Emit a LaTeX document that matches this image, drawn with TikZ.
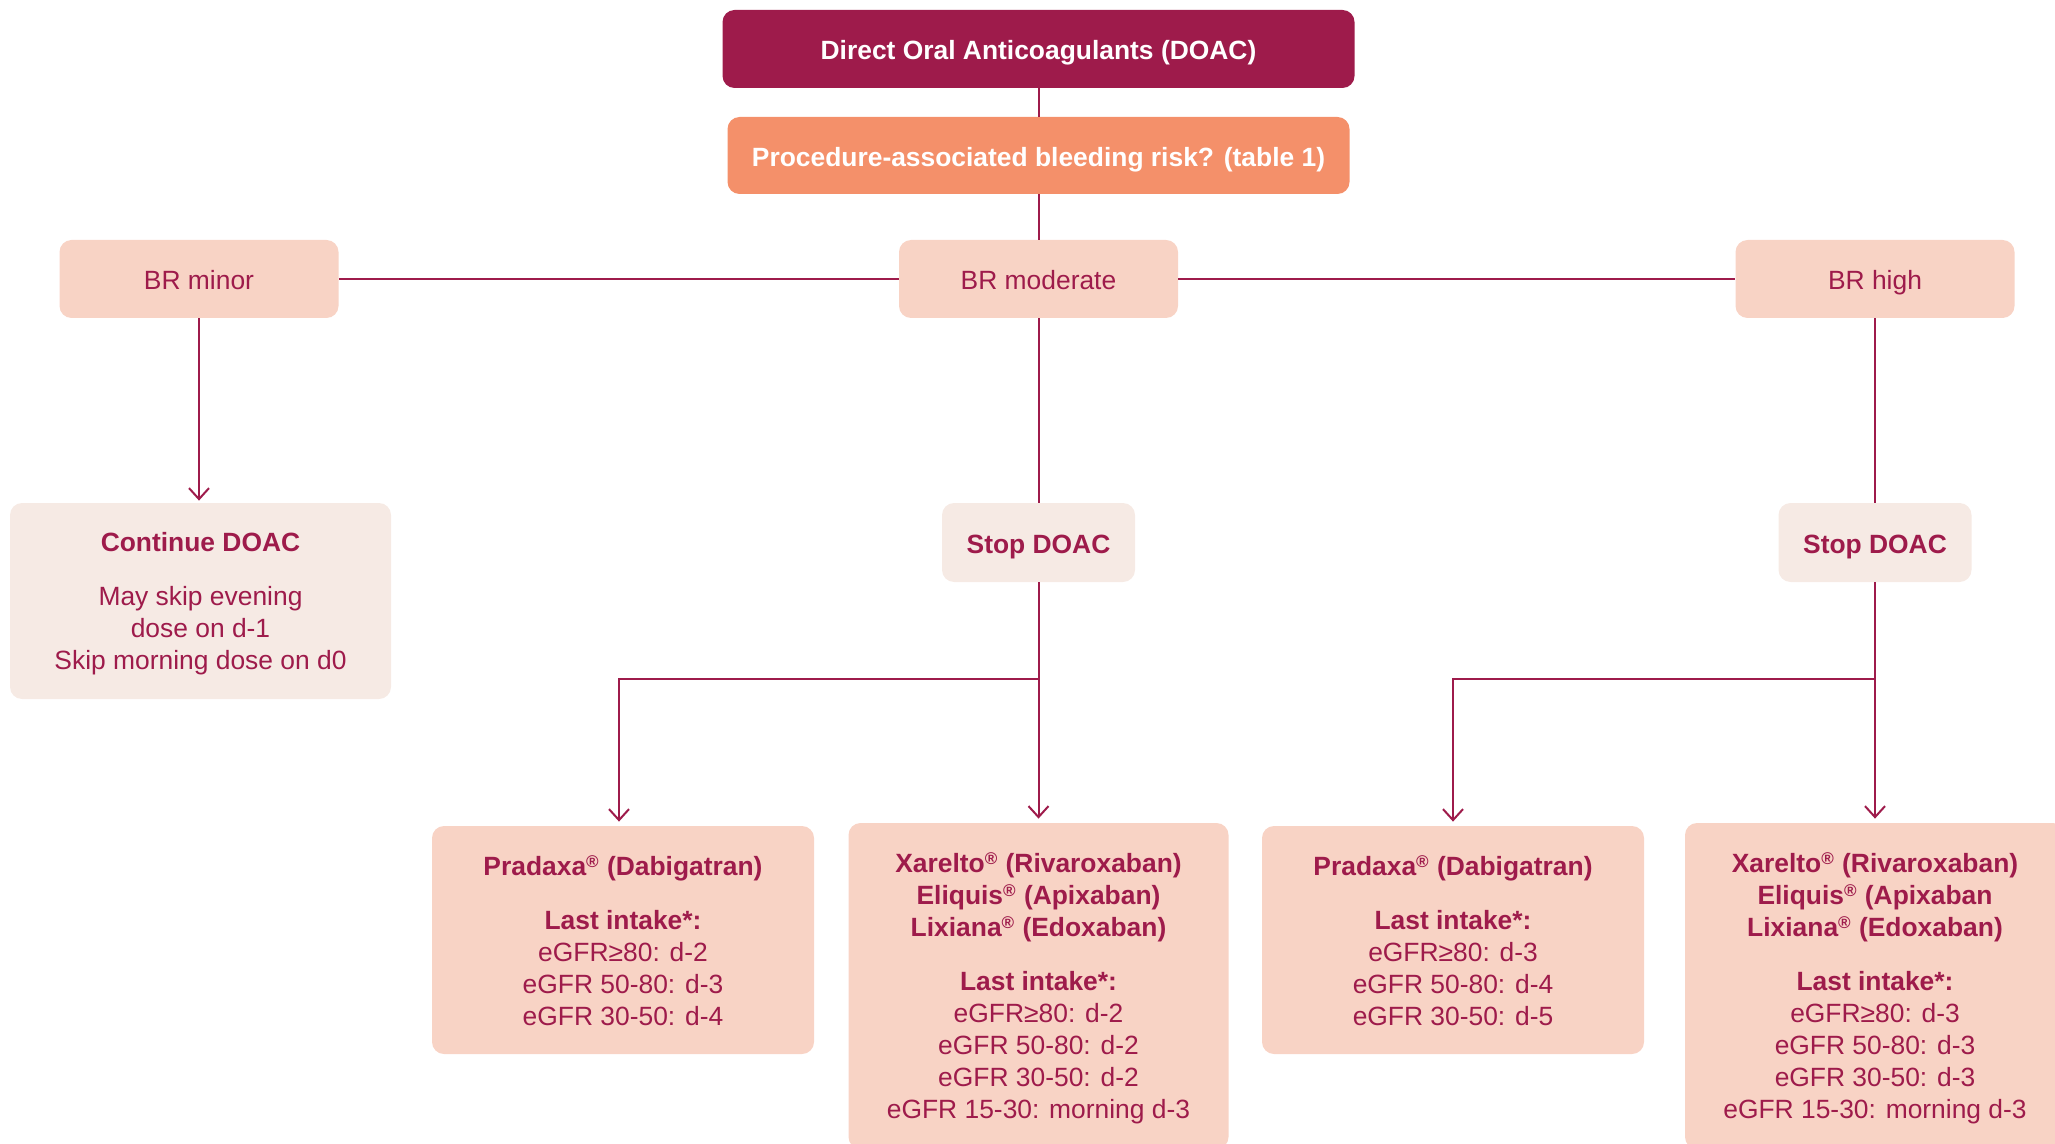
\documentclass[tikz,border=0pt]{standalone}
\usepackage{fontspec}
\setmainfont{Liberation Sans}
\usetikzlibrary{arrows.meta}
\definecolor{maroon}{HTML}{9E1B4B}
\definecolor{orangebox}{HTML}{F4906A}
\definecolor{pinkbox}{HTML}{F8D3C5}
\definecolor{lightbox}{HTML}{F6EAE4}
\tikzset{
  base/.style={rounded corners=6pt, inner sep=0pt, align=center, text=maroon,
    font=\fontsize{13.2}{16}\selectfont},
  oneline/.style={text height=12.5pt, text depth=1.8pt},
  headbox/.style={base, oneline, fill=maroon, text=white, font=\fontsize{13.2}{16}\selectfont\bfseries,
    minimum width=316pt, minimum height=39pt},
  qbox/.style={base, oneline, fill=orangebox, text=white, font=\fontsize{13.2}{16}\selectfont\bfseries,
    minimum width=311pt, minimum height=38.5pt},
  brbox/.style={base, oneline, fill=pinkbox, minimum width=139.5pt, minimum height=39pt},
  stopbox/.style={base, oneline, fill=lightbox, font=\fontsize{13.2}{16}\selectfont\bfseries,
    minimum width=96.5pt, minimum height=39.5pt},
  contbox/.style={base, fill=lightbox, minimum width=190.5pt, minimum height=98pt},
  pradbox/.style={base, fill=pinkbox, minimum width=191pt, minimum height=114pt},
  xarbox/.style={base, fill=pinkbox, minimum width=190pt, minimum height=163pt},
  conn/.style={draw=maroon, line width=1pt},
  arr/.style={conn, -{Straight Barb[length=5.5pt,width=10pt,line width=1pt]}, shorten >=2pt},
}
\newcommand{\reg}{\textsuperscript{\fontsize{8.5}{8.5}\selectfont ®}}
\newcommand{\tops}{\rule{0pt}{12.5pt}}
\newcommand{\bots}{\rule[-1.8pt]{0pt}{1.8pt}}
\begin{document}
\begin{tikzpicture}[x=0.5pt,y=-0.5pt]
\useasboundingbox (0,0) rectangle (2055,1144);

\node[headbox] (doac) at (1038.5,49) {Direct Oral Anticoagulants (DOAC)};
\node[qbox] (proc) at (1038.5,155.5) {Procedure-associated bleeding risk? (table 1)};

\node[brbox] (minor) at (199,279) {BR minor};
\node[brbox] (moderate) at (1038.5,279) {BR moderate};
\node[brbox] (high) at (1875,279) {BR high};

\node[contbox] (cont) at (200.5,601) {\tops{\bfseries Continue DOAC}\\[11pt]May skip evening\\dose on d-1\\Skip morning dose on d0\bots};
\node[stopbox] (stopm) at (1038.5,542.5) {Stop DOAC};
\node[stopbox] (stoph) at (1875,542.5) {Stop DOAC};

\node[pradbox] (prad1) at (623,940) {\tops{\bfseries Pradaxa\reg{} (Dabigatran)}\\[11pt]{\bfseries Last intake*:}\\eGFR≥80: d-2\\eGFR 50-80: d-3\\eGFR 30-50: d-4\bots};
\node[xarbox] (xar1) at (1038.5,986) {\tops{\bfseries Xarelto\reg{} (Rivaroxaban)}\\{\bfseries Eliquis\reg{} (Apixaban)}\\{\bfseries Lixiana\reg{} (Edoxaban)}\\[11pt]{\bfseries Last intake*:}\\eGFR≥80: d-2\\eGFR 50-80: d-2\\eGFR 30-50: d-2\\eGFR 15-30: morning d-3\bots};
\node[pradbox] (prad2) at (1453,940) {\tops{\bfseries Pradaxa\reg{} (Dabigatran)}\\[11pt]{\bfseries Last intake*:}\\eGFR≥80: d-3\\eGFR 50-80: d-4\\eGFR 30-50: d-5\bots};
\node[xarbox] (xar2) at (1875,986) {\tops{\bfseries Xarelto\reg{} (Rivaroxaban)}\\{\bfseries Eliquis\reg{} (Apixaban}\\{\bfseries Lixiana\reg{} (Edoxaban)}\\[11pt]{\bfseries Last intake*:}\\eGFR≥80: d-3\\eGFR 50-80: d-3\\eGFR 30-50: d-3\\eGFR 15-30: morning d-3\bots};

\coordinate (bm) at (1038.5,679);
\coordinate (bh) at (1875,679);

\draw[conn] (doac) -- (proc);
\draw[conn] (proc) -- (moderate);
\draw[conn] (minor) -- (moderate);
\draw[conn] (moderate) -- (high);
\draw[arr, shorten >=1pt] (minor.south) -- (minor.south |- cont.north);
\draw[conn] (moderate) -- (stopm);
\draw[conn] (high) -- (stoph);
\draw[arr] (stopm) -- (xar1);
\draw[arr] (stoph) -- (xar2);
\draw[arr] (bm) -| ([xshift=-2pt]prad1.north);
\draw[arr] (bh) -| (prad2.north);
\end{tikzpicture}
\end{document}
